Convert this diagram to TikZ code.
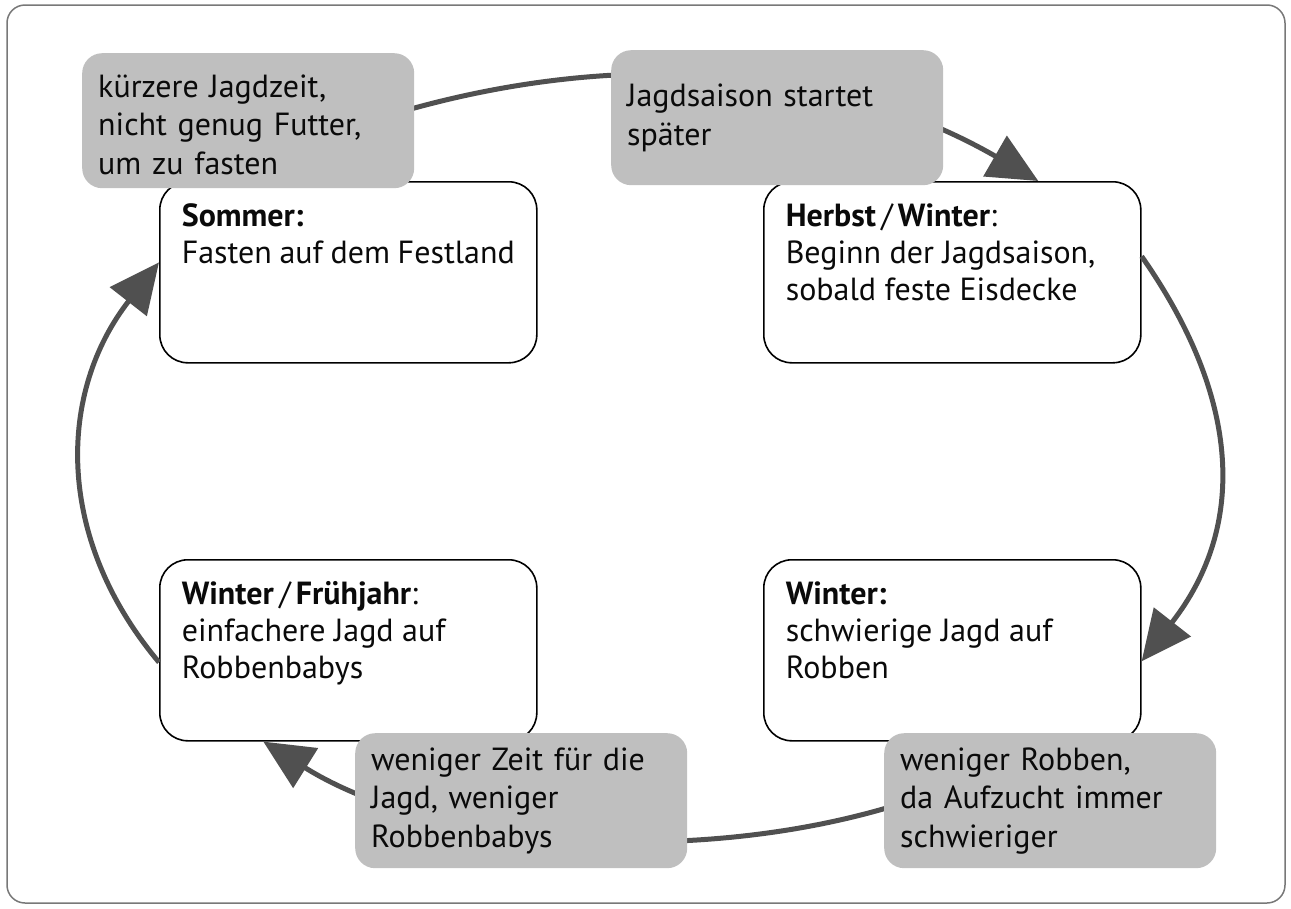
\documentclass[tikz,border=0pt]{standalone}
\usepackage{fontspec}
\setmainfont{PT Sans}
\usetikzlibrary{arrows.meta,calc}
\definecolor{arrowgray}{RGB}{80,80,80}
\definecolor{boxgray}{RGB}{191,191,191}
\definecolor{framegray}{RGB}{120,120,120}
\definecolor{txt}{RGB}{10,10,10}
\newcommand{\seasontext}[2]{\parbox[c][137pt][t]{333pt}{#1\\#2}}
\begin{document}
\begin{tikzpicture}[x=1pt,y=-1pt,
  season/.style={draw=black, line width=1.6pt, rounded corners=28pt, fill=white,
    inner xsep=22pt, inner ysep=22pt, anchor=north west, text=txt,
    font=\fontsize{32}{37}\selectfont},
  cause/.style={fill=boxgray, rounded corners=20pt, minimum width=332pt,
    minimum height=135pt, text width=300pt, align=left, inner xsep=16pt,
    anchor=north west, text=txt, font=\fontsize{32}{38.5}\selectfont},
  cyc/.style={draw=arrowgray, line width=5pt, -{Triangle[length=50pt,width=46pt]}}]
\useasboundingbox (0,0) rectangle (1291,908);
\draw[framegray, line width=1.5pt, rounded corners=18pt] (7,5) rectangle (1285,903);

% season boxes
\node[season] (so) at (159,181) {\seasontext{\textbf{Sommer:}}{Fasten auf dem Festland}};
\node[season] (hw) at (763,181) {\seasontext{\textbf{Herbst}\thinspace/\thinspace\textbf{Winter}:}{Beginn der Jagdsaison,\\sobald feste Eisdecke}};
\node[season] (wf) at (159,559) {\seasontext{\textbf{Winter}\thinspace/\thinspace\textbf{Frühjahr}:}{einfachere Jagd auf\\Robbenbabys}};
\node[season] (wi) at (763,559) {\seasontext{\textbf{Winter:}}{schwierige Jagd auf\\Robben}};

% cause boxes (placed now, drawn later on top)
\path node[cause, fill=none] (gb1) at (82,53) {}
      node[cause, fill=none] (gb2) at (611,50) {}
      node[cause, fill=none] (gb3) at (355,733) {}
      node[cause, fill=none] (gb4) at (884,733) {};

% cycle connectors
\draw[cyc] ([xshift=-30pt,yshift=4pt]gb1.east) to[out=17,in=150,looseness=0.92] ([xshift=86pt]hw.north);
\draw[cyc] ([yshift=16pt]hw.east) to[out=-55,in=52,looseness=1.09] ([yshift=-11pt]wi.east);
\draw[cyc] ([xshift=-50pt,yshift=38pt]gb4.center) to[out=208,in=-32,looseness=0.8] ([xshift=-85pt]wf.south);
\draw[cyc] ([yshift=-12pt]wf.west) to[out=130,in=232,looseness=1.05] ([yshift=10pt]so.west);

% cause boxes on top
\node[cause] at (gb1.north west) {\raisebox{0pt}[\height][\depth]{kürzere Jagdzeit,}\\nicht genug Futter,\\um zu fasten\vspace{-8pt}};
\node[cause] at (gb2.north west) {Jagdsaison startet\\später};
\node[cause] at (gb3.north west) {weniger Zeit für die\\Jagd, weniger\\Robbenbabys};
\node[cause] at (gb4.north west) {weniger Robben,\\da Aufzucht immer\\schwieriger};
\end{tikzpicture}
\end{document}
